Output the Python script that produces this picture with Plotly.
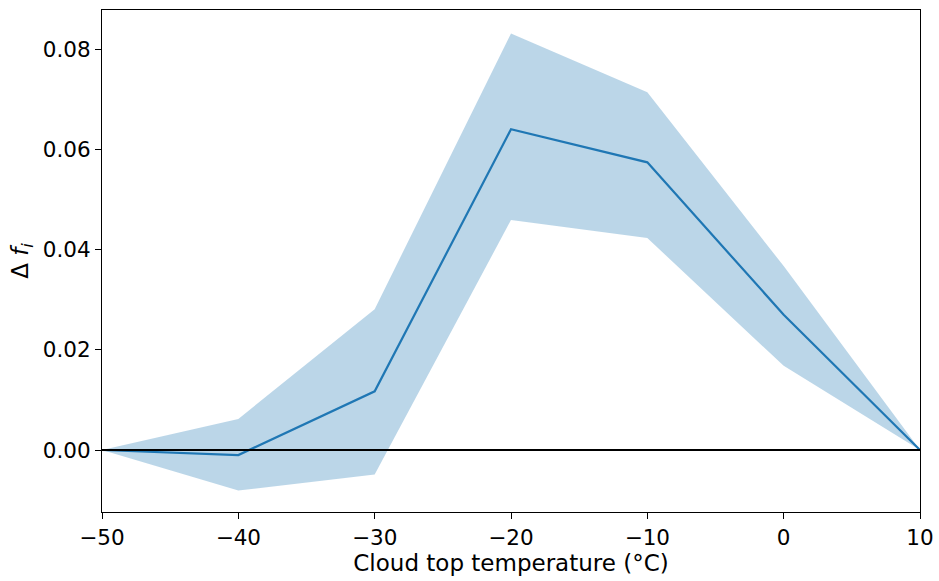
import plotly.graph_objects as go

temps = [-50, -40, -30, -20, -10, 0, 10]
delta_fi = [0.0, -0.001, 0.0117, 0.064, 0.0574, 0.027, 0.0]
upper = [0.0, 0.0062, 0.0281, 0.0831, 0.0714, 0.0367, 0.0]
lower = [0.0, -0.0081, -0.0049, 0.0459, 0.0423, 0.0168, 0.0]
x_ticks = [-50, -40, -30, -20, -10, 0, 10]
x_tick_labels = ["\u221250", "\u221240", "\u221230", "\u221220", "\u221210", "0", "10"]
y_ticks = [0.0, 0.02, 0.04, 0.06, 0.08]
y_tick_labels = ["0.00", "0.02", "0.04", "0.06", "0.08"]

fig = go.Figure()
fig.add_trace(go.Scatter(x=temps, y=lower, mode="lines", line=dict(width=0),
                         showlegend=False, hoverinfo="skip"))
fig.add_trace(go.Scatter(x=temps, y=upper, mode="lines", line=dict(width=0),
                         fill="tonexty", fillcolor="rgba(31,119,180,0.3)",
                         showlegend=False, hoverinfo="skip"))
fig.add_trace(go.Scatter(x=temps, y=delta_fi, mode="lines",
                         line=dict(color="#1f77b4", width=2.2), showlegend=False))
fig.add_hline(y=0, line=dict(color="black", width=2.2), layer="above")

axis_common = dict(showline=True, linecolor="black", linewidth=1.1, mirror=True,
                   ticks="outside", ticklen=6, tickwidth=1.1, tickcolor="black",
                   showgrid=False, zeroline=False,
                   tickfont=dict(family="DejaVu Sans", size=21.5, color="black"))

fig.update_layout(
    width=939, height=581,
    paper_bgcolor="white", plot_bgcolor="white",
    margin=dict(l=102, r=19, t=10, b=69),
    font=dict(family="DejaVu Sans", color="black"),
    xaxis=dict(range=[-50, 10], tickvals=x_ticks, ticktext=x_tick_labels,
               automargin="height+bottom",
               title=dict(text="Cloud top temperature (\u00b0C)",
                          font=dict(family="DejaVu Sans", size=23), standoff=2),
               **axis_common),
    yaxis=dict(range=[-0.01237, 0.0878], tickvals=y_ticks, ticktext=y_tick_labels,
               automargin="width+left",
               title=dict(text="\u0394 <i>f<sub>i</sub></i>",
                          font=dict(family="DejaVu Sans", size=23), standoff=7),
               **axis_common),
)

fig.write_html("out.html", config={"displayModeBar": False},
               post_script="document.body.style.margin='0';document.body.style.overflow='hidden';")
